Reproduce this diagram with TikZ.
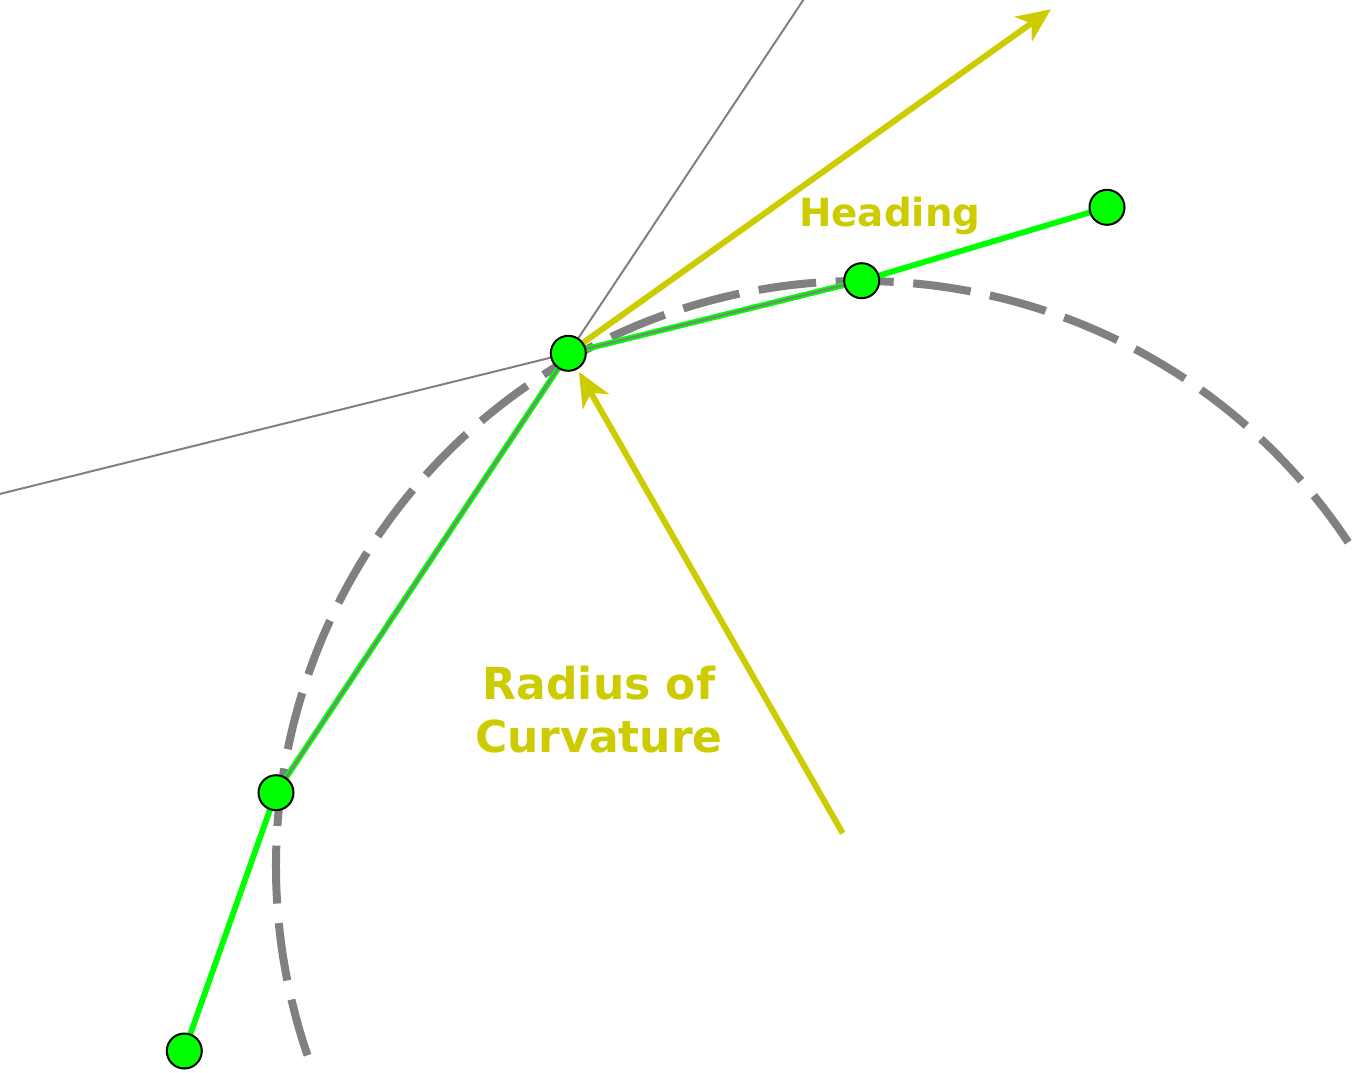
\documentclass[tikz,border=0pt]{standalone}
\usepackage{fontspec}
\setmainfont{DejaVu Sans}
\usetikzlibrary{arrows.meta,backgrounds}
\definecolor{hl}{HTML}{CCCC00}
\definecolor{grn}{HTML}{00FF00}
\definecolor{gry}{HTML}{808080}
\begin{document}
\begin{tikzpicture}[x=1pt,y=-1pt,
  ptnode/.style={circle,draw=black,fill=grn,line width=2pt,minimum size=35pt,inner sep=0pt},
  track/.style={draw=grn,line width=5.8pt},
  guide/.style={draw=gry,line width=2pt},
  arcline/.style={draw=gry,line width=8pt,dash pattern=on 58pt off 19.6pt},
  vec/.style={draw=hl,line width=6pt,-{Stealth[length=34pt,width=30pt,inset=10pt]}},
  lbl/.style={text=hl,inner sep=0pt}]
\useasboundingbox (0,0) rectangle (1357,1073);
\clip (0,0) rectangle (1357,1073);
% points
\node[ptnode] (p0) at (184.3,1051) {};
\node[ptnode] (p1) at (276,792.7) {};
\node[ptnode] (p2) at (568.3,353.3) {};
\node[ptnode] (p3) at (861.7,280.7) {};
\node[ptnode] (p4) at (1107,207.3) {};
% free ends
\coordinate (c) at (861,866);
\coordinate (gl) at (-2,494.4);
\coordinate (gt) at (804.6,-2);
\coordinate (ht) at (1051,9.3);
\coordinate (rs) at (842.7,833.3);
% labels
\node[lbl,anchor=base west,font=\bfseries\fontsize{38.8}{44}\selectfont] (head) at (799,226) {Heading};
\node[lbl,anchor=base,align=center,font=\bfseries\fontsize{44}{53}\selectfont] (rad) at (599,752) {Radius of\\Curvature};
\begin{scope}[on background layer]
  \draw[arcline] (c) ++(326.4:585) arc[start angle=326.4, end angle=160.3, radius=585];
  \draw[track] (p0.center) -- (p1.center) -- (p2.center) -- (p3.center) -- (p4.center);
  \draw[guide] (gl) -- (p3.center);
  \draw[guide] (p1.center) -- (gt);
  \draw[vec] (p2.center) -- (ht);
  \draw[vec,shorten >=3pt] (rs) -- (p2);
\end{scope}
\end{tikzpicture}
\end{document}
